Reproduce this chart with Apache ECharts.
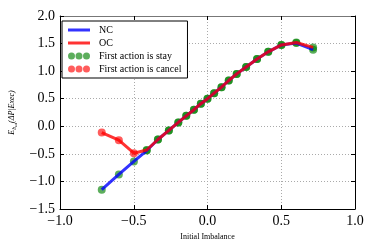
<!DOCTYPE html>
<html><head><meta charset="utf-8">
<script src="https://cdn.jsdelivr.net/npm/echarts@6/dist/echarts.min.js"></script>
<style>html,body{margin:0;padding:0;background:#fff}#c{width:374px;height:249px}</style>
</head><body><div id="c"></div>
<script>
const xs = [-0.717,-0.601,-0.499,-0.412,-0.336,-0.262,-0.198,-0.144,-0.092,-0.045,0,0.045,0.095,0.144,0.198,0.262,0.336,0.412,0.501,0.602,0.716];
const ncY = [-1.15,-0.873,-0.638,-0.44,-0.24,-0.075,0.07,0.19,0.30,0.41,0.5,0.6,0.71,0.83,0.95,1.075,1.22,1.35,1.475,1.51,1.39];
const ocY = [-0.114,-0.253,-0.488,-0.43,-0.24,-0.075,0.07,0.19,0.30,0.41,0.5,0.6,0.71,0.83,0.95,1.075,1.22,1.35,1.475,1.52,1.43];
const ocFirst = ['cancel','cancel','cancel','stay','stay','stay','stay','stay','stay','stay','stay','stay','stay','stay','stay','stay','stay','stay','stay','stay','stay'];
const xTicks = [-1.0,-0.5,0.0,0.5,1.0];
const yTicks = [-1.5,-1.0,-0.5,0.0,0.5,1.0,1.5,2.0];

const BLUE='rgba(0,0,255,0.8)', RED='rgba(255,0,0,0.8)', GREEN='rgba(0,128,0,0.8)';
const SERIF='"Liberation Serif","DejaVu Serif",serif';
const fmt = v => (v<0?'\u2212':'') + Math.abs(v).toFixed(1);
const dotsIcon = 'path://M0,3.5a3.5,3.5 0 1,0 7,0a3.5,3.5 0 1,0 -7,0M7.5,3.5a3.5,3.5 0 1,0 7,0a3.5,3.5 0 1,0 -7,0M15,3.5a3.5,3.5 0 1,0 7,0a3.5,3.5 0 1,0 -7,0';
const lineIcon = 'path://M0,0H22V3H0Z';

const pts = (ys, filt) => xs.map((x,i)=>[x,ys[i]]).filter((p,i)=>!filt || filt(i));

const chart = echarts.init(document.getElementById('c'), null, {renderer:'canvas'});
const tickStyle = {show:true, inside:true, length:4, lineStyle:{color:'#000', width:1}};
chart.setOption({
  animation:false,
  backgroundColor:'#fff',
  grid:{left:57, right:19, top:16, bottom:40},
  legend:{
    orient:'vertical', left:62, top:21, padding:[4,6,4,6], itemGap:3,
    backgroundColor:'#fff', borderColor:'#000', borderWidth:1, borderRadius:0,
    itemWidth:22, itemHeight:7,
    textStyle:{fontFamily:SERIF, fontSize:10, color:'#000', padding:[0,0,0,4]},
    data:[
      {name:'NC', icon:lineIcon, itemStyle:{color:BLUE}},
      {name:'OC', icon:lineIcon, itemStyle:{color:RED}},
      {name:'First action is stay', icon:dotsIcon},
      {name:'First action is cancel', icon:dotsIcon}
    ]
  },
  xAxis:[{
    type:'value', min:-1, max:1, interval:0.5,
    name:'Initial Imbalance', nameLocation:'middle', nameGap:22,
    nameTextStyle:{fontFamily:SERIF, fontSize:8, color:'#000'},
    axisLine:{show:true, onZero:false, lineStyle:{color:'#000', width:1}},
    axisTick:tickStyle,
    axisLabel:{formatter:fmt, fontFamily:SERIF, fontSize:14, color:'#000', margin:5},
    splitLine:{show:true, lineStyle:{color:'#aaa', type:[1,2], width:1}}
  },{
    type:'value', min:-1, max:1, interval:0.5, position:'top',
    axisLine:{show:true, onZero:false, lineStyle:{color:'#777', width:1}},
    axisTick:tickStyle, axisLabel:{show:false}, splitLine:{show:false}
  }],
  yAxis:[{
    type:'value', min:-1.5, max:2, interval:0.5,
    name:'{e|E}{s|b}{ss|ut}{e|(\u0394P|Exec)}', nameLocation:'middle', nameGap:42,
    nameTextStyle:{fontFamily:SERIF, fontSize:8, color:'#000',
      rich:{
        e:{fontFamily:SERIF, fontSize:8, fontStyle:'italic', color:'#000'},
        s:{fontFamily:SERIF, fontSize:6, fontStyle:'italic', color:'#000', padding:[4,0,0,0]},
        ss:{fontFamily:SERIF, fontSize:5, fontStyle:'italic', color:'#000', padding:[7,0,0,0]}
      }},
    axisLine:{show:true, onZero:false, lineStyle:{color:'#000', width:1}},
    axisTick:tickStyle,
    axisLabel:{formatter:fmt, fontFamily:SERIF, fontSize:14, color:'#000', margin:5},
    splitLine:{show:true, lineStyle:{color:'#aaa', type:[1,2], width:1}}
  },{
    type:'value', min:-1.5, max:2, interval:0.5, position:'right',
    axisLine:{show:true, onZero:false, lineStyle:{color:'#000', width:1}},
    axisTick:tickStyle, axisLabel:{show:false}, splitLine:{show:false}
  }],
  series:[
    {name:'First action is stay', type:'scatter', symbolSize:8, z:2,
     itemStyle:{color:GREEN}, data:pts(ncY)},
    {name:'First action is stay', type:'scatter', symbolSize:8, z:2,
     itemStyle:{color:GREEN}, data:pts(ocY, i=>ocFirst[i]==='stay')},
    {name:'First action is cancel', type:'scatter', symbolSize:8, z:2,
     itemStyle:{color:RED}, data:pts(ocY, i=>ocFirst[i]==='cancel')},
    {name:'NC', type:'line', symbol:'none', z:3, itemStyle:{color:BLUE},
     lineStyle:{color:BLUE, width:3}, data:pts(ncY)},
    {name:'OC', type:'line', symbol:'none', z:4, itemStyle:{color:RED},
     lineStyle:{color:RED, width:3}, data:pts(ocY)}
  ]
});
</script></body></html>
